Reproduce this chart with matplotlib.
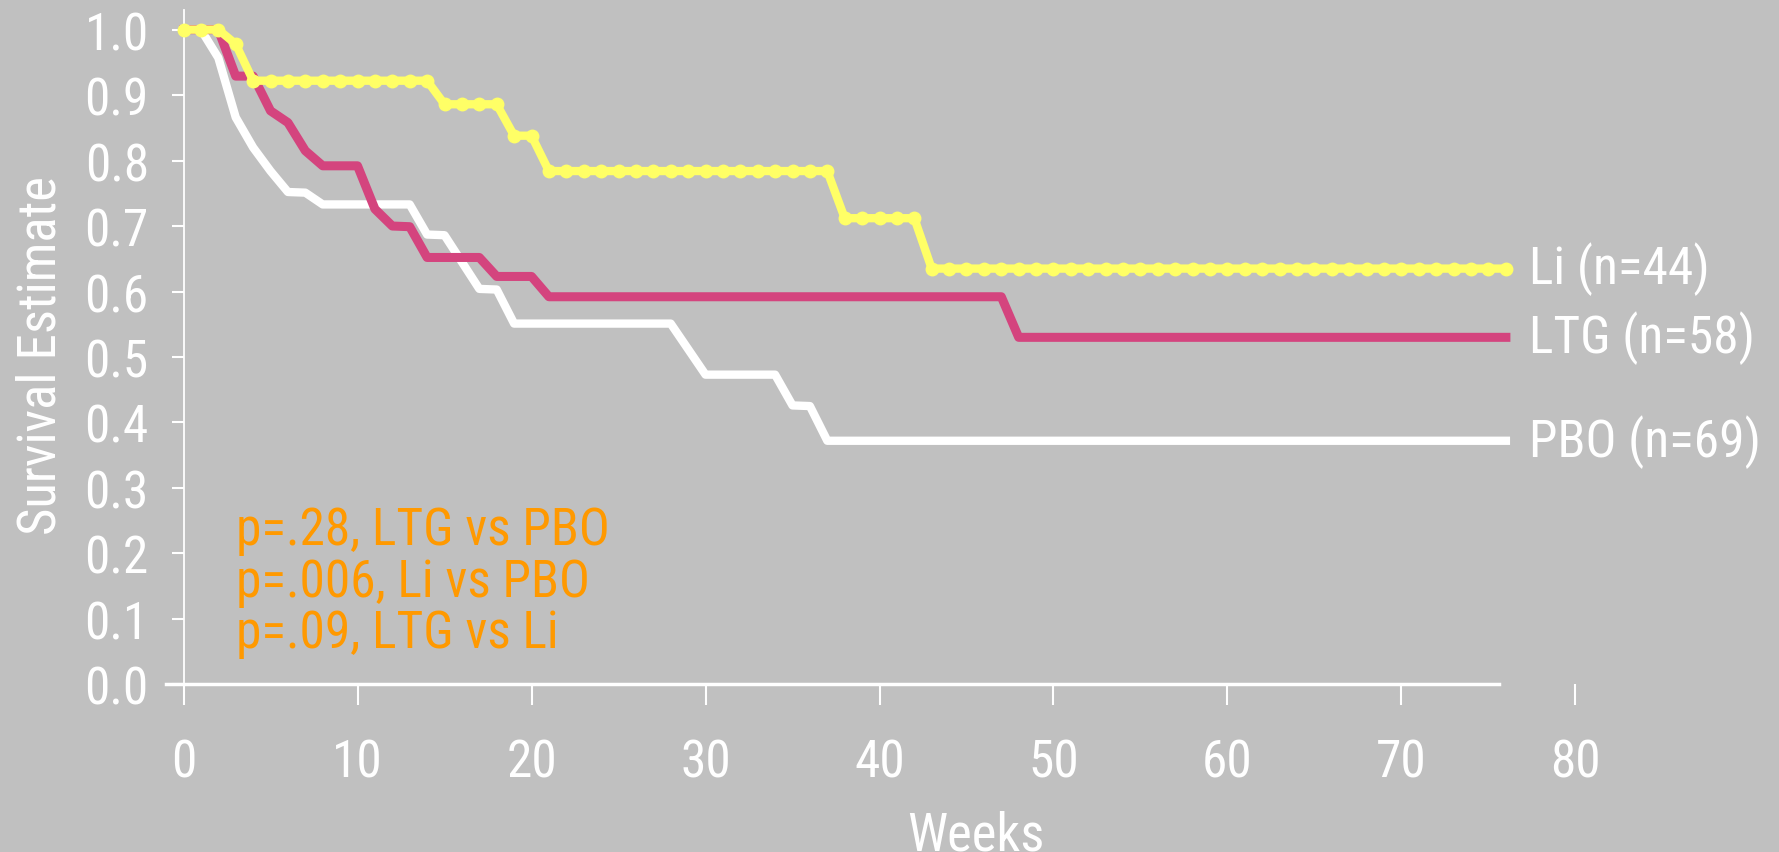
import matplotlib
matplotlib.use("Agg")
from matplotlib import pyplot as plt

# survival estimates, one value per week (0..76)
weeks = list(range(77))

li = [1.0, 1.0, 1.0, 0.978, 0.922, 0.922, 0.922, 0.922, 0.922, 0.922,
      0.922, 0.922, 0.922, 0.922, 0.922, 0.886, 0.886, 0.886, 0.886, 0.838,
      0.838, 0.784, 0.784, 0.784, 0.784, 0.784, 0.784, 0.784, 0.784, 0.784,
      0.784, 0.784, 0.784, 0.784, 0.784, 0.784, 0.784, 0.784, 0.712, 0.712,
      0.712, 0.712, 0.712, 0.635, 0.635, 0.635, 0.635, 0.635, 0.635, 0.635,
      0.635, 0.635, 0.635, 0.635, 0.635, 0.635, 0.635, 0.635, 0.635, 0.635,
      0.635, 0.635, 0.635, 0.635, 0.635, 0.635, 0.635, 0.635, 0.635, 0.635,
      0.635, 0.635, 0.635, 0.635, 0.635, 0.635, 0.635]

ltg = [1.0, 1.0, 1.0, 0.929, 0.929, 0.876, 0.858, 0.815, 0.792, 0.792,
       0.792, 0.726, 0.700, 0.699, 0.652, 0.652, 0.652, 0.652, 0.623, 0.623,
       0.623, 0.592, 0.592, 0.592, 0.592, 0.592, 0.592, 0.592, 0.592, 0.592,
       0.592, 0.592, 0.592, 0.592, 0.592, 0.592, 0.592, 0.592, 0.592, 0.592,
       0.592, 0.592, 0.592, 0.592, 0.592, 0.592, 0.592, 0.592, 0.530, 0.530,
       0.530, 0.530, 0.530, 0.530, 0.530, 0.530, 0.530, 0.530, 0.530, 0.530,
       0.530, 0.530, 0.530, 0.530, 0.530, 0.530, 0.530, 0.530, 0.530, 0.530,
       0.530, 0.530, 0.530, 0.530, 0.530, 0.530, 0.530]

pbo = [1.0, 1.0, 0.957, 0.866, 0.820, 0.784, 0.752, 0.751, 0.733, 0.733,
       0.733, 0.733, 0.733, 0.733, 0.687, 0.686, 0.645, 0.604, 0.603, 0.551,
       0.551, 0.551, 0.551, 0.551, 0.551, 0.551, 0.551, 0.551, 0.551, 0.512,
       0.473, 0.473, 0.473, 0.473, 0.473, 0.426, 0.425, 0.372, 0.372, 0.372,
       0.372, 0.372, 0.372, 0.372, 0.372, 0.372, 0.372, 0.372, 0.372, 0.372,
       0.372, 0.372, 0.372, 0.372, 0.372, 0.372, 0.372, 0.372, 0.372, 0.372,
       0.372, 0.372, 0.372, 0.372, 0.372, 0.372, 0.372, 0.372, 0.372, 0.372,
       0.372, 0.372, 0.372, 0.372, 0.372, 0.372, 0.372]

group_labels = ["Li (n=44)", "LTG (n=58)", "PBO (n=69)"]
p_lines = ["p=.28, LTG vs PBO", "p=.006, Li vs PBO", "p=.09, LTG vs Li"]
p_y = [0.214, 0.135, 0.0565]

x_ticks = [0, 10, 20, 30, 40, 50, 60, 70, 80]
y_ticks = [0.0, 0.1, 0.2, 0.3, 0.4, 0.5, 0.6, 0.7, 0.8, 0.9, 1.0]
y_ticklabels = ["0.0", "0.1", "0.2", "0.3", "0.4", "0.5", "0.6", "0.7", "0.8", "0.9", "1.0"]

bg = "#c0c0c0"
pink = "#d4447e"
yellow = "#ffff66"
orange = "#ff9900"
fsize = 37

plt.rcParams["font.family"] = ["Liberation Sans Narrow", "Roboto Condensed",
                               "Open Sans Condensed", "DejaVu Sans"]
plt.rcParams["font.stretch"] = "condensed"

fig = plt.figure(figsize=(17.79, 8.53), dpi=100, facecolor=bg)
ax = fig.add_axes([0.0924, 0.1966, 0.7932, 0.7905])
ax.set_facecolor(bg)

ax.plot(weeks, pbo, color="white", lw=6, clip_on=False, zorder=3)
ax.plot(weeks, ltg, color=pink, lw=6.5, clip_on=False, zorder=4)
ax.plot(weeks, li, color=yellow, lw=6, marker="o", ms=9, clip_on=False, zorder=5)

ax.set_xlim(-1.1, 80)
ax.set_ylim(0, 1.03)

for s in ["top", "right"]:
    ax.spines[s].set_visible(False)
ax.spines["left"].set_position(("data", 0))
ax.spines["left"].set_bounds(0, 1.03)
ax.spines["left"].set_color("white")
ax.spines["left"].set_linewidth(1.3)
ax.spines["bottom"].set_bounds(-1.0, 75.6)
ax.spines["bottom"].set_color("white")
ax.spines["bottom"].set_linewidth(2.5)

ax.set_xticks(x_ticks)
ax.set_yticks(y_ticks)
ax.set_yticklabels(y_ticklabels)
ax.tick_params(axis="x", direction="out", length=15, width=1.5, color="white",
               pad=23, labelsize=fsize, labelcolor="white")
ax.tick_params(axis="y", direction="out", length=9, width=1.5, color="white",
               pad=16, labelsize=fsize, labelcolor="white")

fig.text(0.023, 0.583, "Survival Estimate", rotation=90, ha="center", va="center",
         fontsize=38, color="white")
fig.text(0.5486, 0.0035, "Weeks", ha="center", va="baseline", fontsize=38, color="white")

for lab, series in zip(group_labels, [li, ltg, pbo]):
    ax.text(weeks[-1] + 1.3, series[-1], lab, ha="left", va="center",
            fontsize=fsize, color="white", clip_on=False)

for line, y in zip(p_lines, p_y):
    ax.text(3.0, y, line, ha="left", va="baseline", fontsize=fsize, color=orange)

fig.savefig("out.png", dpi=100, facecolor=bg)
